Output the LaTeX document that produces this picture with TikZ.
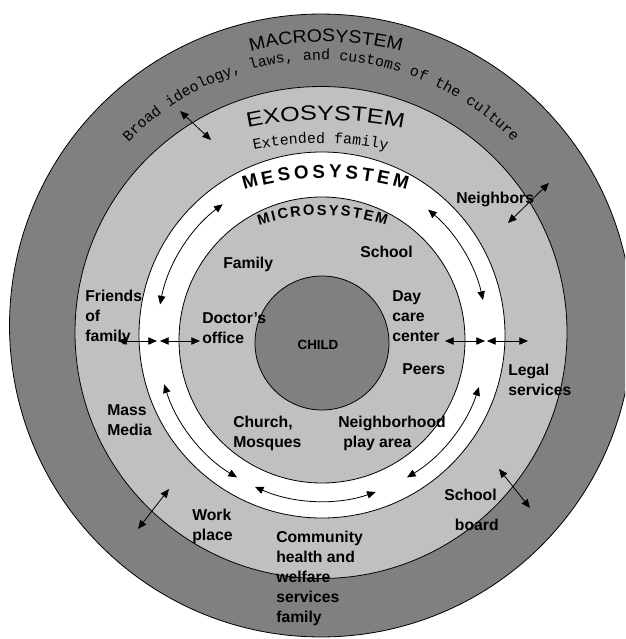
\documentclass[tikz,border=0pt]{standalone}
\usepackage{fontspec}
\setmainfont{Liberation Sans}
\setmonofont{Liberation Mono}
\newfontfamily\macrofont{Liberation Sans}[FakeStretch=1.08]
\newfontfamily\exofont{Liberation Sans}[FakeStretch=1.22]
\usepackage{tikz}
\usetikzlibrary{arrows.meta, decorations.text}
\definecolor{macrogray}{RGB}{128,128,128}
\definecolor{exogray}{RGB}{192,192,192}
\tikzset{
    ring/.style = {draw=black, line width=0.6pt},
    lbl/.style = {font=\bfseries\fontsize{11.8}{15}\selectfont, align=left, anchor=north west, inner sep=0pt},
    twoway/.style = {line width=0.6pt, {Triangle[length=6.5pt,width=5.5pt]}-{Triangle[length=6.5pt,width=5.5pt]}}
}

\begin{document}
\begin{tikzpicture}[x=0.75pt, y=-0.75pt]
\clip (0,0) rectangle (625,639);

\coordinate (macroc) at (321,325.5);
\coordinate (exoc) at (321,332.5);
\coordinate (mesoc) at (322,335);
\coordinate (microc) at (322,340);
\coordinate (childc) at (322,343);
\draw[ring, fill=macrogray] (macroc) circle[radius=233.6pt];
\draw[ring, fill=exogray] (exoc) circle[radius=184.5pt];
\draw[ring, fill=white] (mesoc) circle[radius=137.25pt];
\draw[ring, fill=exogray] (microc) circle[radius=107.25pt];
\draw[ring, fill=macrogray] (childc) circle[radius=50.25pt];

\coordinate (macrot) at (326,342);
\coordinate (broadt) at (321,326);
\coordinate (exot) at (325.5,500);
\coordinate (extt) at (320.5,473);
\coordinate (mesot) at (325.5,458);
\coordinate (microt) at (322.5,415);
\path[decorate, decoration={text along path, text align=center,
    text={|\macrofont\fontsize{13.5}{15}\selectfont|MACROSYSTEM}}]
    ([shift={(120:225pt)}]macrot) arc[start angle=120, end angle=60, radius=225pt];
\path[decorate, decoration={text along path, text align=center,
    text={|\ttfamily\fontsize{11.2}{13}\selectfont|Broad ideology, laws, and customs of the culture}}]
    ([shift={(140:199.5pt)}]broadt) arc[start angle=140, end angle=40, radius=199.5pt];
\path[decorate, decoration={text along path, text align=center,
    text={|\exofont\fontsize{15.5}{17}\selectfont|EXOSYSTEM}}]
    ([shift={(110:285pt)}]exot) arc[start angle=110, end angle=70, radius=285pt];
\path[decorate, decoration={text along path, text align=center,
    text={|\ttfamily\fontsize{11.2}{13}\selectfont|Extended family}}]
    ([shift={(110:247.5pt)}]extt) arc[start angle=110, end angle=70, radius=247.5pt];
\path[decorate, decoration={text along path, text align=fit to path,
    text={|\bfseries\fontsize{14}{16}\selectfont|MESOSYSTEM}}]
    ([shift={(106.9:210pt)}]mesot) arc[start angle=106.9, end angle=73.1, radius=210pt];
\path[decorate, decoration={text along path, text align=fit to path,
    text={|\bfseries\fontsize{11}{13}\selectfont|MICROSYSTEM}}]
    ([shift={(108.5:150pt)}]microt) arc[start angle=108.5, end angle=71.5, radius=150pt];

\node[lbl] (family) at (223,257) {Family};
\node[lbl] (school) at (360,246) {School};
\node[lbl] (friends) at (85,290) {Friends\\of\\family};
\node[lbl] (doctor) at (202,312) {Doctor’s\\office};
\node[lbl] (daycare) at (392,290) {Day\\care\\center};
\node[lbl] (peers) at (402,363) {Peers};
\node[lbl] (legal) at (508,364) {Legal\\services};
\node[lbl] (massmedia) at (107,404) {Mass\\Media};
\node[lbl] (church) at (233,416) {Church,\\Mosques};
\node[lbl] (playarea) at (338,416) {Neighborhood\\\hspace*{3.75pt}play area};
\node[lbl] (workplace) at (192,509) {Work\\place};
\node[lbl] (community) at (276,531) {Community\\health and\\welfare\\services\\family};
\node[lbl] (schoolboard) at (444,489) {School\\[7.5pt]\hspace*{8pt}board};
\node[lbl] (neighbors) at (456,192) {Neighbors};
\node[font=\bfseries\fontsize{10}{12}\selectfont, inner sep=0pt] (child) at (318,344.5) {CHILD};

\coordinate (mac1) at (180,111);
\coordinate (mac2) at (211,140);
\coordinate (nb1) at (508,223);
\coordinate (nb2) at (549,183);
\coordinate (wp1) at (138,529);
\coordinate (wp2) at (169,489);
\coordinate (sb1) at (499,469);
\coordinate (sb2) at (530,508);
\coordinate (fo1) at (118,341);
\coordinate (fo2) at (157,341);
\coordinate (do1) at (160,341);
\coordinate (do2) at (200,341);
\coordinate (dc1) at (445,341);
\coordinate (dc2) at (485,341);
\coordinate (ls1) at (487,341);
\coordinate (ls2) at (528,341);
\draw[twoway] (mac1) -- (mac2);
\draw[twoway] (nb1) -- (nb2);
\draw[twoway] (wp1) -- (wp2);
\draw[twoway] (sb1) -- (sb2);
\draw[twoway] (fo1) -- (fo2);
\draw[twoway] (do1) -- (do2);
\draw[twoway] (dc1) -- (dc2);
\draw[twoway] (ls1) -- (ls2);

\coordinate (arcc) at (322,336);
\coordinate (ula) at ([shift={(127:123.75pt)}]arcc);
\coordinate (ura) at ([shift={(50:123.75pt)}]arcc);
\coordinate (lla) at ([shift={(197:123.75pt)}]arcc);
\coordinate (lra) at ([shift={(-18:123.75pt)}]arcc);
\coordinate (bota) at ([shift={(246:123.75pt)}]arcc);
\draw[twoway] (ula) arc[start angle=127, end angle=169, radius=123.75pt];
\draw[twoway] (ura) arc[start angle=50, end angle=12.6, radius=123.75pt];
\draw[twoway] (lla) arc[start angle=197, end angle=239, radius=123.75pt];
\draw[twoway] (lra) arc[start angle=-18, end angle=-59, radius=123.75pt];
\draw[twoway] (bota) arc[start angle=246, end angle=289, radius=123.75pt];
\end{tikzpicture}
\end{document}
